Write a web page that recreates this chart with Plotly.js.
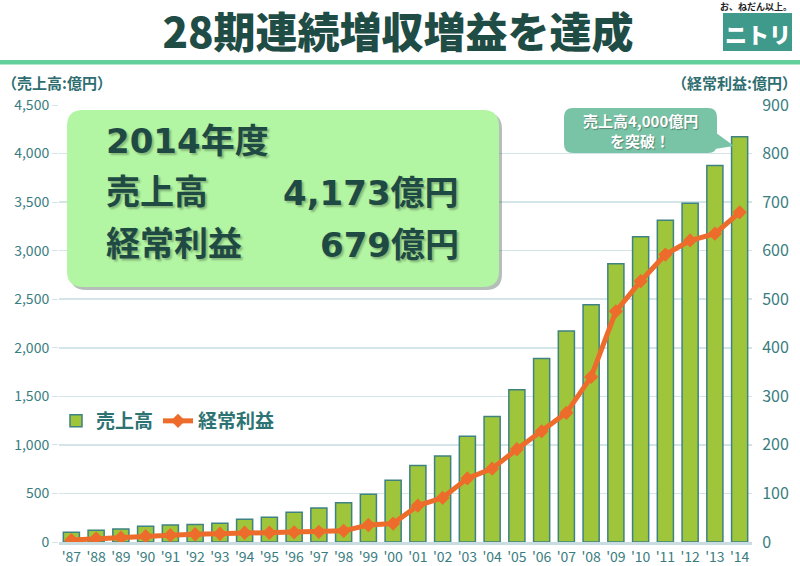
<!DOCTYPE html>
<html>
<head>
<meta charset="utf-8">
<script src="https://cdn.plot.ly/plotly-3.0.1.min.js"></script>
<style>html,body{margin:0;padding:0;background:#fff;}#chart{width:800px;height:566px;}</style>
</head>
<body>
<div id="chart"></div>
<script>
// ---- data ----
const years = ["'87","'88","'89","'90","'91","'92","'93","'94","'95","'96","'97","'98","'99","'00","'01","'02","'03","'04","'05","'06","'07","'08","'09","'10","'11","'12","'13","'14"];
const sales = [100,120,134,161,175,179,192,234,254,307,350,405,491,635,789,885,1088,1293,1568,1889,2172,2443,2865,3143,3314,3489,3876,4173];
const profit = [4,7,9,12,14,16,17,19,19,20,21,23,35,38,75,91,131,151,191,228,266,340,475,537,592,621,635,679];
const seriesNames = ["売上高", "経常利益"];
const titleText = "28期連続増収増益を達成";
const fiscalYear = "2014年度";

// ---- layout helpers (pixel -> paper) ----
const W = 800, H = 566, L = 59, R = 752, T = 105, B = 542;
const px = x => (x - L) / (R - L);
const py = y => (B - y) / (B - T);
function roundRect(x0, y0, x1, y1, r) {
  const P = (x, y) => px(x).toFixed(5) + ',' + py(y).toFixed(5);
  return 'M' + P(x0 + r, y0) + ' L' + P(x1 - r, y0) + ' Q' + P(x1, y0) + ' ' + P(x1, y0 + r) +
    ' L' + P(x1, y1 - r) + ' Q' + P(x1, y1) + ' ' + P(x1 - r, y1) +
    ' L' + P(x0 + r, y1) + ' Q' + P(x0, y1) + ' ' + P(x0, y1 - r) +
    ' L' + P(x0, y0 + r) + ' Q' + P(x0, y0) + ' ' + P(x0 + r, y0) + ' Z';
}
function poly(pts) {
  return 'M' + pts.map(p => px(p[0]).toFixed(5) + ',' + py(p[1]).toFixed(5)).join(' L') + ' Z';
}

const JP = '"Noto Sans CJK JP", "Noto Sans", sans-serif';
const NUMJP = '"DejaVu Sans", "Noto Sans CJK JP", sans-serif';
const dark = '#1f4a44';
const teal = '#3a7d80';
const grid = '#d3e5e8';

const traces = [
  {
    type: 'bar', x: years, y: sales, name: seriesNames[0], yaxis: 'y',
    marker: {color: '#9fc63b', line: {color: '#3e8282', width: 1.5}},
    hoverinfo: 'x+y'
  },
  {
    type: 'scatter', mode: 'lines+markers', x: years, y: profit, name: seriesNames[1], yaxis: 'y2',
    line: {color: '#ed6c2b', width: 5},
    marker: {symbol: 'diamond', size: 11, color: '#ed6c2b'},
    hoverinfo: 'x+y'
  }
];

const shapes = [
  // title underline
  {type: 'rect', xref: 'paper', yref: 'paper', x0: px(0), x1: px(800), y0: py(60), y1: py(64.5),
   fillcolor: '#63cf9c', line: {width: 0}, layer: 'above'},
  // info box shadow
  {type: 'path', xref: 'paper', yref: 'paper', path: roundRect(70, 113, 502, 290, 16),
   fillcolor: 'rgba(90,110,100,0.45)', line: {width: 0}, layer: 'above'},
  // info box
  {type: 'path', xref: 'paper', yref: 'paper', path: roundRect(67, 110, 499, 287, 16),
   fillcolor: '#b2f5a2', line: {width: 0}, layer: 'above'},
  // callout tail
  {type: 'path', xref: 'paper', yref: 'paper', path: poly([[708, 127], [734, 146], [708, 150]]),
   fillcolor: '#79c3a7', line: {width: 0}, layer: 'above'},
  // callout box
  {type: 'path', xref: 'paper', yref: 'paper', path: roundRect(564, 108, 717, 153, 9),
   fillcolor: '#79c3a7', line: {width: 0}, layer: 'above'},
  // logo box
  {type: 'rect', xref: 'paper', yref: 'paper', x0: px(723), x1: px(792), y0: py(13), y1: py(51),
   fillcolor: '#3f9a8c', line: {width: 0}, layer: 'above'}
];

const boxFont = {family: NUMJP, size: 34, color: dark, weight: 'bold', shadow: '2px 2px 2px rgba(0,0,0,0.25)'};
const boxFontJP = {family: JP, size: 34, color: dark, weight: 'bold', shadow: '2px 2px 2px rgba(0,0,0,0.25)'};
const ann = (x, y, text, font, xanchor) => ({
  xref: 'paper', yref: 'paper', x: px(x), y: py(y), text: text, showarrow: false,
  xanchor: xanchor || 'left', yanchor: 'middle', font: font
});

const calloutFont = {family: JP, size: 15, color: '#ffffff', weight: 'bold', shadow: '1px 1px 1px rgba(0,0,0,0.3)'};
const annotations = [
  ann(0, 82, '（売上高:億円）', {family: JP, size: 15, color: '#2e6d70', weight: 'bold'}),
  ann(799, 82, '（経常利益:億円）', {family: JP, size: 15, color: '#2e6d70', weight: 'bold'}, 'right'),
  ann(104, 141, fiscalYear, boxFont),
  ann(104, 189, seriesNames[0], boxFontJP),
  ann(461, 193, sales[sales.length - 1].toLocaleString('en-US') + '億円', boxFont, 'right'),
  ann(104, 241, seriesNames[1], boxFontJP),
  ann(461, 245, profit[profit.length - 1].toLocaleString('en-US') + '億円', boxFont, 'right'),
  ann(640, 120, '売上高4,000億円', calloutFont, 'center'),
  ann(640, 141, 'を突破！', calloutFont, 'center'),
  ann(756, 6.5, 'お、ねだん以上。', {family: JP, size: 9, color: '#222222', weight: 'bold'}, 'center'),
  ann(757.5, 32.5, 'ニトリ', {family: JP, size: 22, color: '#ffffff', weight: 900}, 'center')
];

const layout = {
  width: W, height: H,
  margin: {l: L, r: W - R, t: T, b: H - B},
  paper_bgcolor: '#ffffff', plot_bgcolor: '#ffffff',
  title: {text: titleText, x: 0.4975, xref: 'container', xanchor: 'center',
          y: 1 - 33 / H, yref: 'container', yanchor: 'middle',
          font: {family: JP, size: 42, color: '#1f4d45', weight: 900}},
  bargap: 0.35,
  showlegend: true,
  legend: {orientation: 'h', x: px(56), y: py(421), xanchor: 'left', yanchor: 'middle',
           bgcolor: 'rgba(0,0,0,0)', font: {family: JP, size: 19, color: '#2e7373', weight: 'bold'},
           itemwidth: 30, tracegroupgap: 0, traceorder: 'normal'},
  xaxis: {type: 'category', range: [-0.5, 27.5], showgrid: false, showline: true,
          linecolor: '#c8dce1', linewidth: 3, ticks: '', fixedrange: true,
          tickfont: {family: JP, size: 14, color: teal}},
  yaxis: {range: [0, 4500], dtick: 500, tickformat: ',d', showgrid: true, gridcolor: grid, gridwidth: 1.5,
          zeroline: false, ticks: 'outside', ticklen: 6, tickcolor: grid,
          tickfont: {family: JP, size: 14, color: teal}},
  yaxis2: {range: [0, 900], dtick: 100, overlaying: 'y', side: 'right', showgrid: false, zeroline: false,
           ticks: 'outside', ticklen: 6, tickcolor: 'rgba(0,0,0,0)',
           tickfont: {family: JP, size: 16, color: teal}},
  shapes: shapes,
  annotations: annotations
};

Plotly.newPlot('chart', traces, layout, {displayModeBar: false, staticPlot: true});
</script>
</body>
</html>
